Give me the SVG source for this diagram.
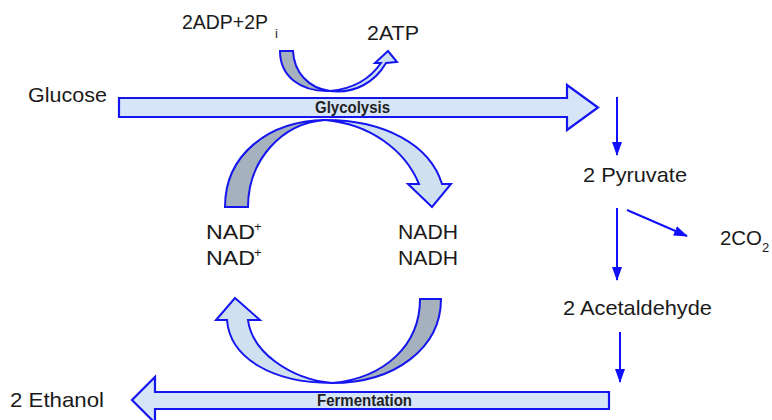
<svg xmlns="http://www.w3.org/2000/svg" width="772" height="420" viewBox="0 0 772 420">
<defs>
<style>
.lbl{font-family:"Liberation Sans",Arial,sans-serif;font-size:21px;fill:#1a1a1a}
.sm{font-family:"Liberation Sans",Arial,sans-serif;font-size:13px;fill:#1a1a1a}
.bar{fill:#d7e5f8;stroke:#1515f0;stroke-width:2.2;stroke-linejoin:miter}
.blue{fill:#cfe0f0;stroke:#1515f0;stroke-width:2;stroke-linejoin:miter}
.gray{fill:#a5b2bd;stroke:#1515f0;stroke-width:2;stroke-linejoin:miter}
.bt{font-family:"Liberation Sans",Arial,sans-serif;font-weight:bold;font-size:16px;fill:#222}
.thin{stroke:#1010ff;stroke-width:2;fill:none}
</style>
<marker id="ah2" markerWidth="14" markerHeight="10" refX="13" refY="5" orient="auto" markerUnits="userSpaceOnUse" viewBox="0 0 14 10">
<path d="M0,0 L14,5 L0,10 Z" fill="#1010ff"/>
</marker>
</defs>
<rect width="772" height="420" fill="#fff"/>

<g id="glycolysis">
<path class="bar" d="M119,98 L567,98 L567,85 L598,107.5 L567,130 L567,117 L119,117 Z"/>
<text class="bt" x="315" y="113" textLength="75" lengthAdjust="spacingAndGlyphs">Glycolysis</text>
</g>

<g id="fermentation">
<path class="bar" d="M609,392 L155,392 L155,377 L132,400 L155,423 L155,409 L609,409 Z"/>
<text class="bt" x="317" y="406" textLength="95" lengthAdjust="spacingAndGlyphs">Fermentation</text>
</g>

<g id="atp-cycle">
<path class="gray" d="M280,51 L293,51 C294,72 308,88 330,91 C300,92 280,76 280,51 Z"/>
<path class="blue" d="M330,91 C355,94 375,82 386,63 L397,62 L388,51 L375,63 L381,63 C370,79 352,89 330,91 Z"/>
</g>

<g id="nad-cycle-top">
<path class="gray" d="M225,207 C225,155 268,121 325,120 C282,123 248,160 248,207 Z"/>
<path class="blue" d="M325,120 C385,120 430,145 442,184 L451,184 L432,207 L408,184 L419,184 C405,150 370,124 325,120 Z"/>
</g>

<g id="nad-cycle-bottom">
<path class="gray" d="M420,299 L441,299 C441,348 395,383 332,383 C385,378 420,345 420,299 Z"/>
<path class="blue" d="M332,383 C272,383 230,358 227,320 L216,320 L235,298 L260,320 L248,320 C252,352 290,379 332,383 Z"/>
</g>

<g id="glucose"><text class="lbl" x="28" y="102" textLength="79" lengthAdjust="spacingAndGlyphs">Glucose</text></g>
<g id="adp"><text class="lbl" x="182" y="29" textLength="86" lengthAdjust="spacingAndGlyphs">2ADP+2P</text><text class="sm" x="275" y="38">i</text></g>
<g id="atp"><text class="lbl" x="367" y="40" textLength="52" lengthAdjust="spacingAndGlyphs">2ATP</text></g>
<g id="nadplus">
<text class="lbl" x="206" y="239" textLength="49" lengthAdjust="spacingAndGlyphs">NAD</text><text class="sm" x="254" y="231">+</text>
<text class="lbl" x="206" y="265" textLength="49" lengthAdjust="spacingAndGlyphs">NAD</text><text class="sm" x="254" y="257">+</text>
</g>
<g id="nadh">
<text class="lbl" x="398" y="239" textLength="60" lengthAdjust="spacingAndGlyphs">NADH</text>
<text class="lbl" x="398" y="265" textLength="60" lengthAdjust="spacingAndGlyphs">NADH</text>
</g>
<g id="pyruvate"><text class="lbl" x="583" y="182" textLength="104" lengthAdjust="spacingAndGlyphs">2 Pyruvate</text></g>
<g id="co2"><text class="lbl" x="720" y="245" textLength="42" lengthAdjust="spacingAndGlyphs">2CO</text><text class="sm" x="762" y="252">2</text></g>
<g id="acetaldehyde"><text class="lbl" x="563" y="315" textLength="149" lengthAdjust="spacingAndGlyphs">2 Acetaldehyde</text></g>
<g id="ethanol"><text class="lbl" x="10" y="407" textLength="94" lengthAdjust="spacingAndGlyphs">2 Ethanol</text></g>

<g id="connectors">
<line class="thin" x1="617" y1="97" x2="617" y2="155" marker-end="url(#ah2)"/>
<line class="thin" x1="617" y1="208" x2="617" y2="280" marker-end="url(#ah2)"/>
<line class="thin" x1="627" y1="210" x2="687" y2="236" marker-end="url(#ah2)"/>
<line class="thin" x1="620" y1="332" x2="620" y2="382" marker-end="url(#ah2)"/>
</g>
</svg>
